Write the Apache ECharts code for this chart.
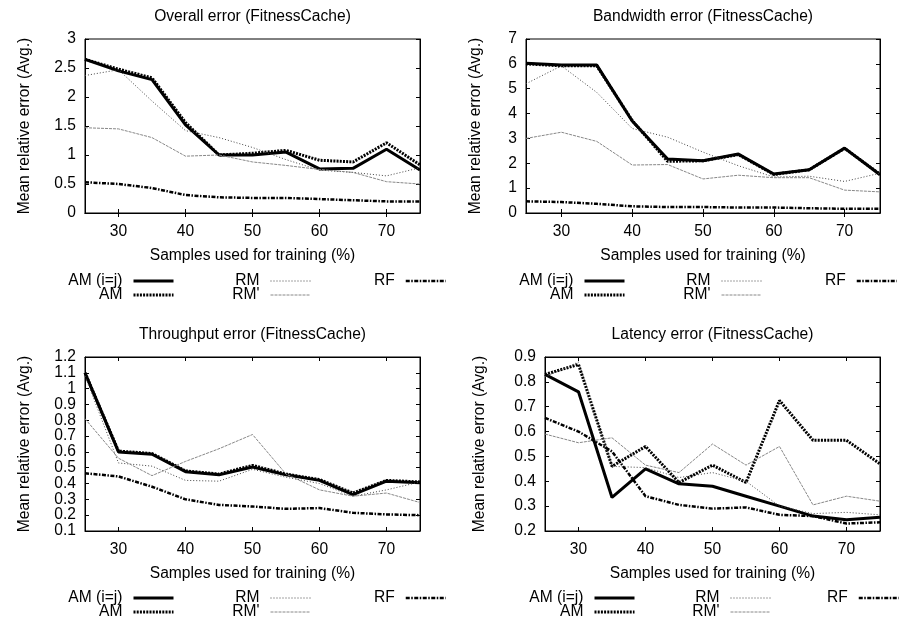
<!DOCTYPE html>
<html><head><meta charset="utf-8">
<script src="https://cdn.jsdelivr.net/npm/echarts@6/dist/echarts.min.js"></script>
<style>html,body{margin:0;padding:0;background:#fff}#c{width:906px;height:625px}</style>
</head><body><div id="c"></div>
<script>
// ---------- data ----------
const samples = [25, 30, 35, 40, 45, 50, 55, 60, 65, 70, 75];
const xTickValues = [30, 40, 50, 60, 70];
const seriesNames = ['AM (i=j)', 'AM', 'RM', "RM'", 'RF'];
const panelTitles = ['Overall error (FitnessCache)', 'Bandwidth error (FitnessCache)',
                     'Throughput error (FitnessCache)', 'Latency error (FitnessCache)'];
const xAxisTitle = 'Samples used for training (%)';
const yAxisTitle = 'Mean relative error (Avg.)';

// y ranges [min, max, interval]
const yOverall = [0, 3, 0.5];
const yBandwidth = [0, 7, 1];
const yThroughput = [0.1, 1.2, 0.1];
const yLatency = [0.2, 0.9, 0.1];

// Overall
const amijOverall = [2.65, 2.45, 2.30, 1.52, 1.00, 1.00, 1.05, 0.76, 0.77, 1.10, 0.74];
const amOverall   = [2.65, 2.48, 2.33, 1.56, 1.00, 1.03, 1.08, 0.91, 0.88, 1.21, 0.83];
const rmOverall   = [2.37, 2.47, 1.93, 1.42, 1.30, 1.13, 0.92, 0.74, 0.70, 0.64, 0.78];
const rmpOverall  = [1.47, 1.45, 1.30, 0.98, 1.00, 0.88, 0.82, 0.75, 0.70, 0.54, 0.50];
const rfOverall   = [0.53, 0.50, 0.43, 0.31, 0.27, 0.26, 0.26, 0.24, 0.22, 0.20, 0.20];
// Bandwidth
const amijBandwidth = [6.02, 5.95, 5.95, 3.70, 2.17, 2.10, 2.37, 1.57, 1.74, 2.61, 1.54];
const amBandwidth   = [6.00, 5.92, 5.92, 3.72, 2.08, 2.10, 2.35, 1.55, 1.74, 2.60, 1.56];
const rmBandwidth   = [5.20, 5.92, 4.85, 3.40, 3.05, 2.45, 1.90, 1.45, 1.48, 1.27, 1.60];
const rmpBandwidth  = [3.00, 3.25, 2.88, 1.93, 1.95, 1.37, 1.52, 1.42, 1.42, 0.92, 0.85];
const rfBandwidth   = [0.47, 0.44, 0.37, 0.27, 0.24, 0.24, 0.22, 0.22, 0.19, 0.17, 0.17];
// Throughput
const amijThroughput = [1.10, 0.60, 0.585, 0.475, 0.455, 0.505, 0.455, 0.42, 0.33, 0.415, 0.405];
const amThroughput   = [1.10, 0.605, 0.59, 0.48, 0.46, 0.515, 0.46, 0.425, 0.34, 0.42, 0.41];
const rmThroughput   = [1.08, 0.53, 0.51, 0.42, 0.415, 0.49, 0.44, 0.40, 0.32, 0.36, 0.41];
const rmpThroughput  = [0.81, 0.56, 0.45, 0.54, 0.62, 0.71, 0.46, 0.36, 0.32, 0.34, 0.28];
const rfThroughput   = [0.465, 0.445, 0.38, 0.30, 0.265, 0.255, 0.24, 0.245, 0.215, 0.205, 0.20];
// Latency
const amijLatency = [0.83, 0.76, 0.335, 0.45, 0.39, 0.38, 0.34, 0.30, 0.26, 0.245, 0.255];
const amLatency   = [0.83, 0.87, 0.46, 0.54, 0.395, 0.465, 0.395, 0.725, 0.565, 0.565, 0.47];
const rmLatency   = [0.82, 0.88, 0.46, 0.455, 0.415, 0.435, 0.40, 0.30, 0.27, 0.275, 0.265];
const rmpLatency  = [0.59, 0.555, 0.575, 0.465, 0.435, 0.55, 0.465, 0.54, 0.305, 0.34, 0.32];
const rfLatency   = [0.655, 0.60, 0.52, 0.34, 0.305, 0.29, 0.295, 0.265, 0.26, 0.23, 0.235];

// ---------- layout / style ----------
const FONT = '"Liberation Sans", Arial, Helvetica, sans-serif';
const FS = 15.6;
const panels = [
  { grid: {left: 85, top: 39, width: 335, height: 174}, y: yOverall,
    data: [amijOverall, amOverall, rmOverall, rmpOverall, rfOverall],
    yNameGap: 52, legendX: [175, 311, 447], legendY: [281, 295] },
  { grid: {left: 526, top: 39, width: 354, height: 174}, y: yBandwidth,
    data: [amijBandwidth, amBandwidth, rmBandwidth, rmpBandwidth, rfBandwidth],
    yNameGap: 42, legendX: [626, 762, 898], legendY: [281, 295] },
  { grid: {left: 85, top: 357, width: 335, height: 174}, y: yThroughput,
    data: [amijThroughput, amThroughput, rmThroughput, rmpThroughput, rfThroughput],
    yNameGap: 52, legendX: [175, 311, 447], legendY: [598, 612] },
  { grid: {left: 545, top: 357, width: 335, height: 174}, y: yLatency,
    data: [amijLatency, amLatency, rmLatency, rmpLatency, rfLatency],
    yNameGap: 57, legendX: [636, 771, 900], legendY: [598, 612] }
];
const lineStyles = [
  { color: '#000', width: 3, type: 'solid' },
  { color: '#000', width: 3, type: [2, 1.2] },
  { color: '#444', width: 1, type: [1, 2] },
  { color: '#888', width: 1, type: [3, 1] },
  { color: '#000', width: 2.5, type: [4, 1.5, 1.5, 1.5] }
];
// legend slot per series: [column, row]
const legendSlots = [[0, 0], [0, 1], [1, 0], [1, 1], [2, 0]];

const grids = [], xAxes = [], yAxes = [], series = [], titles = [], legends = [];
const txt = { color: '#000', fontFamily: FONT, fontSize: FS };

panels.forEach((p, pi) => {
  grids.push(Object.assign({ show: true, borderColor: '#000', borderWidth: 1, containLabel: false }, p.grid));
  const cx = p.grid.left + p.grid.width / 2;
  titles.push({ text: panelTitles[pi], left: cx, top: p.grid.top - 30, textAlign: 'center', padding: 0,
    textStyle: Object.assign({ fontWeight: 'normal' }, txt) });
  const xBase = { type: 'value', gridIndex: pi, min: samples[0], max: samples[samples.length - 1],
    axisLine: { show: true, lineStyle: { color: '#000', width: 1 } }, splitLine: { show: false } };
  xAxes.push(Object.assign({}, xBase, { position: 'bottom',
    name: xAxisTitle, nameLocation: 'middle', nameGap: 35, nameTextStyle: txt,
    axisTick: { inside: true, length: 4, customValues: xTickValues, lineStyle: { color: '#000' } },
    axisLabel: Object.assign({ margin: 11, customValues: xTickValues }, txt) }));
  xAxes.push(Object.assign({}, xBase, { position: 'top',
    axisTick: { inside: true, length: 4, customValues: xTickValues, lineStyle: { color: '#000' } },
    axisLabel: { show: false } }));
  const yBase = { type: 'value', gridIndex: pi, min: p.y[0], max: p.y[1], interval: p.y[2],
    axisLine: { show: true, lineStyle: { color: '#000', width: 1 } }, splitLine: { show: false },
    axisTick: { inside: true, length: 4, lineStyle: { color: '#000' } } };
  yAxes.push(Object.assign({}, yBase, { position: 'left',
    name: yAxisTitle, nameLocation: 'middle', nameGap: p.yNameGap, nameTextStyle: txt,
    axisLabel: Object.assign({ margin: 9 }, txt) }));
  yAxes.push(Object.assign({}, yBase, { position: 'right', axisLabel: { show: false } }));

  p.data.forEach((arr, si) => {
    series.push({ type: 'line', name: seriesNames[si], xAxisIndex: pi * 2, yAxisIndex: pi * 2,
      symbol: 'none', showSymbol: false, animation: false, silent: true,
      lineStyle: lineStyles[si], itemStyle: { color: lineStyles[si].color },
      emphasis: { disabled: true },
      data: samples.map((x, i) => [x, arr[i]]) });
  });

  seriesNames.forEach((nm, si) => {
    const [col, row] = legendSlots[si];
    legends.push({ data: [nm], orient: 'horizontal', align: 'right', padding: 0,
      right: 906 - p.legendX[col], top: p.legendY[row] - 8,
      itemWidth: 40, itemHeight: 14, selectedMode: false,
      itemStyle: { opacity: 0 },
      lineStyle: { width: 'inherit', type: 'inherit', color: 'inherit' },
      textStyle: Object.assign({ padding: [0, 6, 0, 0], lineHeight: 16 }, txt) });
  });
});

const chart = echarts.init(document.getElementById('c'), null, { renderer: 'canvas' });
chart.setOption({
  animation: false, backgroundColor: '#fff',
  title: titles, grid: grids, xAxis: xAxes, yAxis: yAxes, legend: legends, series: series
});
</script></body></html>
